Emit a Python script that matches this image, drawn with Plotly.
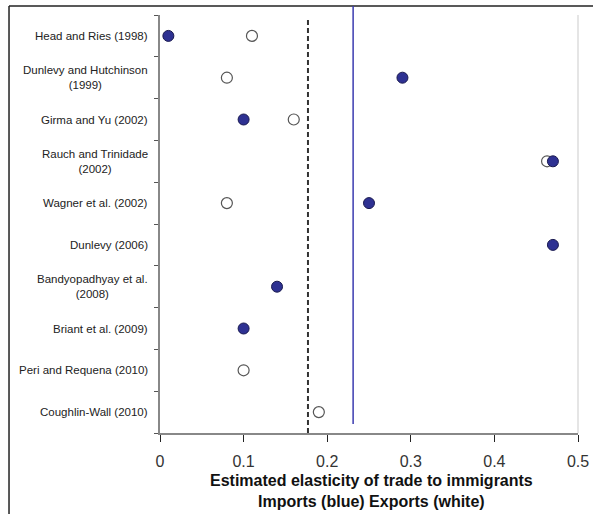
import plotly.graph_objects as go

studies = [
    "Head and Ries (1998)",
    "Dunlevy and Hutchinson<br>(1999)",
    "Girma and Yu (2002)",
    "Rauch and Trinidade<br>(2002)",
    "Wagner et al. (2002)",
    "Dunlevy (2006)",
    "Bandyopadhyay et al.<br>(2008)",
    "Briant et al. (2009)",
    "Peri and Requena (2010)",
    "Coughlin-Wall (2010)",
]
imports_blue = [0.01, 0.29, 0.10, 0.47, 0.25, 0.47, 0.14, 0.10, None, None]
exports_white = [0.11, 0.08, 0.16, 0.463, 0.08, None, None, None, 0.10, 0.19]
mean_exports = 0.177
mean_imports = 0.231
x_ticks = [0, 0.1, 0.2, 0.3, 0.4, 0.5]
title_lines = ["Estimated elasticity of trade to immigrants", "Imports (blue) Exports (white)"]

idx = list(range(len(studies)))

fig = go.Figure()
wx = [v for v in exports_white if v is not None]
wy = [i for i, v in zip(idx, exports_white) if v is not None]
bx = [v for v in imports_blue if v is not None]
by = [i for i, v in zip(idx, imports_blue) if v is not None]

fig.add_trace(go.Scatter(x=wx, y=wy, mode="markers",
                         marker=dict(size=11, color="white", line=dict(color="#555555", width=1.2)),
                         showlegend=False, cliponaxis=False))
fig.add_trace(go.Scatter(x=bx, y=by, mode="markers",
                         marker=dict(size=11, color="#2e3192", line=dict(color="#1a1a50", width=1)),
                         showlegend=False, cliponaxis=False))

shapes = [
    # outer frame (top and left)
    dict(type="line", xref="paper", yref="paper", x0=-0.3612, x1=1.05, y0=1.0215, y1=1.0215,
         line=dict(color="#222222", width=1.5)),
    dict(type="line", xref="paper", yref="paper", x0=-0.3612, x1=-0.3612, y0=1.0215, y1=-0.25,
         line=dict(color="#222222", width=1.5)),
    # right light border
    dict(type="line", xref="paper", yref="paper", x0=1, x1=1, y0=0, y1=1,
         line=dict(color="#dddddd", width=1.5)),
    # dashed exports mean
    dict(type="line", xref="x", yref="paper", x0=mean_exports, x1=mean_exports, y0=0, y1=0.99,
         line=dict(color="#333333", width=2, dash="5px,3px")),
    # solid imports mean
    dict(type="line", xref="x", yref="paper", x0=mean_imports, x1=mean_imports, y0=0.0215, y1=1.0215,
         line=dict(color="#3b3bb0", width=1.5)),
]

annotations = []
for i, s in enumerate(studies):
    annotations.append(dict(x=-0.024, y=i, xref="paper", yref="y", text=s, showarrow=False,
                            xanchor="right", yanchor="middle", align="center",
                            font=dict(family="Liberation Sans, Arial", size=11.5, color="#222222")))
for k, (t, yy) in enumerate(zip(title_lines, [-0.1148, -0.165])):
    annotations.append(dict(x=0.506, y=yy, xref="paper", yref="paper", text="<b>" + t + "</b>",
                            showarrow=False, xanchor="center", yanchor="middle",
                            font=dict(family="Liberation Sans, Arial", size=16, color="#111111")))

fig.update_layout(
    width=593, height=514,
    margin=dict(l=160, r=15, t=15, b=81),
    plot_bgcolor="white", paper_bgcolor="white",
    shapes=shapes, annotations=annotations,
    xaxis=dict(range=[0, 0.5], tickvals=x_ticks, ticktext=[str(t) for t in x_ticks],
               automargin=False,
               showgrid=False, zeroline=False, showline=True, linecolor="#888888", linewidth=1.5,
               ticks="outside", ticklen=7, tickcolor="#222222", tickwidth=1.2,
               ticklabelstandoff=6,
               tickfont=dict(family="Liberation Sans, Arial", size=16, color="#333333")),
    yaxis=dict(range=[len(studies) - 0.5, -0.5], tickvals=[i - 0.5 for i in range(len(studies) + 1)],
               automargin=False,
               showticklabels=False, showgrid=False, zeroline=False, showline=True,
               linecolor="#888888", linewidth=1.5, ticks="outside", ticklen=4, tickcolor="#555555"),
)

fig.write_html("out.html", config={"displayModeBar": False},
               post_script="document.body.style.margin='0';document.body.style.overflow='hidden';")
